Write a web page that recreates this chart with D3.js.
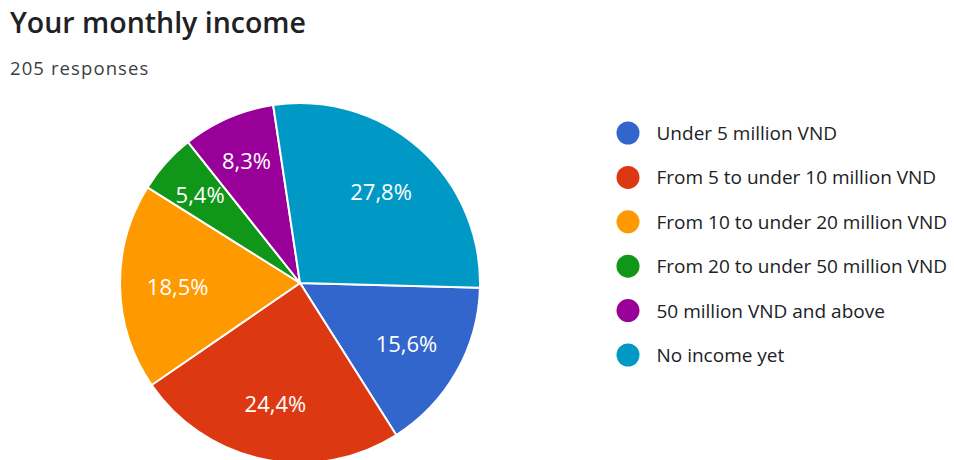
<!DOCTYPE html>
<html><head><meta charset="utf-8">
<script src="https://cdn.jsdelivr.net/npm/d3@7"></script>
<style>
html,body{margin:0;padding:0;background:#fff;}
svg{display:block;font-family:"Open Sans","Noto Sans",sans-serif;}
</style></head>
<body>
<svg id="chart" width="954" height="460"></svg>
<script>
const title = "Your monthly income";
const subtitle = "205 responses";
const categories = ["Under 5 million VND","From 5 to under 10 million VND","From 10 to under 20 million VND","From 20 to under 50 million VND","50 million VND and above","No income yet"];
const values = [15.6, 24.4, 18.5, 5.4, 8.3, 27.8];
const labels = ["15,6%","24,4%","18,5%","5,4%","8,3%","27,8%"];
const colors = ["#3366cc","#dc3912","#ff9900","#109618","#990099","#0099c6"];

const svg = d3.select("#chart");
svg.append("text").attr("x",10).attr("y",33).attr("font-size",28.5).attr("font-weight",600).attr("fill","#202124").text(title);
svg.append("text").attr("x",10).attr("y",75).attr("font-size",18.5).attr("letter-spacing",1.1).attr("fill","#3c4043").text(subtitle);

const cx = 300, cy = 283, r = 180;
const start = 91.5*Math.PI/180;
const pie = d3.pie().sort(null).value(d=>d).startAngle(start).endAngle(start+2*Math.PI);
const arcs = pie(values);
const arc = d3.arc().innerRadius(0).outerRadius(r);
const bigLabelArc = d3.arc().innerRadius(r*0.68).outerRadius(r*0.68);
const smallLabelArc = d3.arc().innerRadius(r*0.745).outerRadius(r*0.745);
const g = svg.append("g").attr("transform",`translate(${cx},${cy})`);
g.selectAll("path").data(arcs).join("path")
  .attr("d",arc).attr("fill",(d,i)=>colors[i]).attr("stroke","#fff").attr("stroke-width",2);
g.selectAll("text").data(arcs).join("text")
  .attr("transform",d=>`translate(${(d.endAngle-d.startAngle<0.6?smallLabelArc:bigLabelArc).centroid(d)})`)
  .attr("text-anchor","middle").attr("dominant-baseline","central")
  .attr("font-size",22).attr("fill","#fff").text((d,i)=>labels[i]);

const color = d3.scaleOrdinal().domain(categories).range(colors);
const ly = d3.scalePoint().domain(categories).range([133,355]);
const leg = svg.append("g");
const items = leg.selectAll("g").data(categories).join("g").attr("transform",d=>`translate(628,${ly(d)})`);
items.append("circle").attr("r",11.5).attr("fill",d=>color(d));
items.append("text").attr("x",28.5).attr("dominant-baseline","central").attr("font-size",19).attr("fill","#202124").text(d=>d);
</script>
</body></html>
